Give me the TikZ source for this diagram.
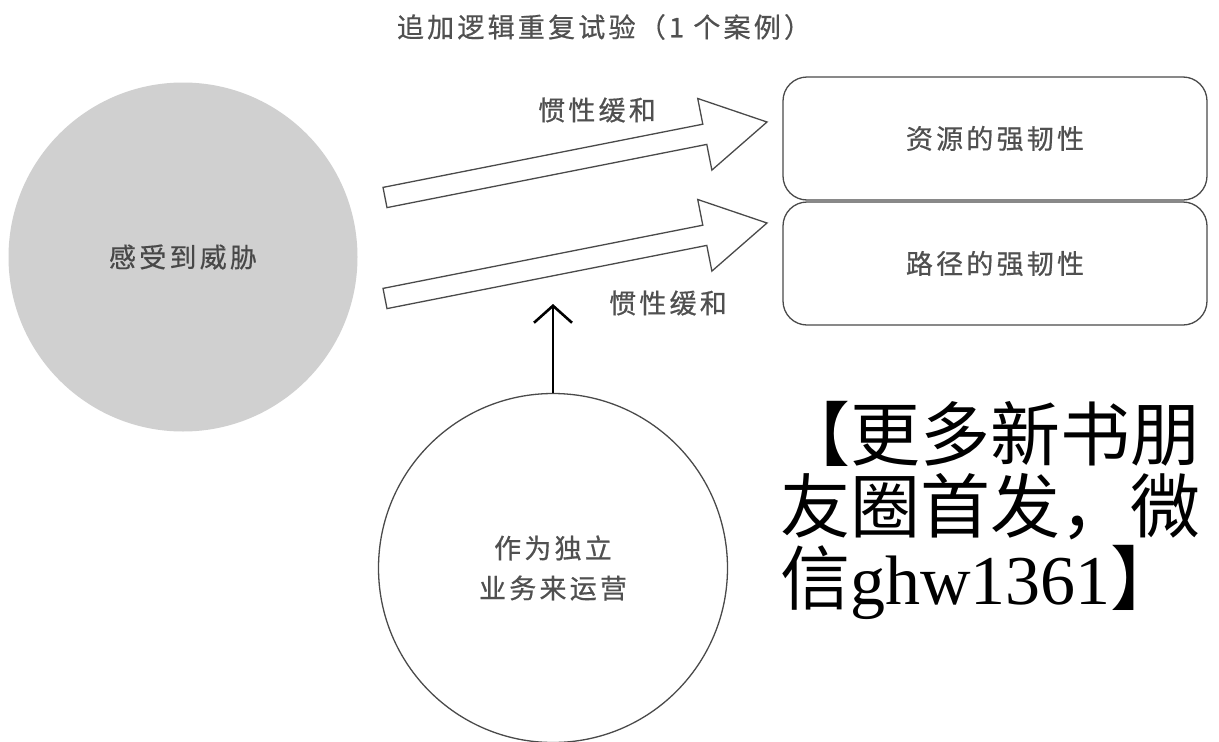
\documentclass[tikz,border=0pt]{standalone}
\usepackage{fontspec}
\newfontfamily\cjk{Noto Sans CJK SC}
\newfontfamily\cjkls{Noto Sans CJK SC}[LetterSpace=12, FakeBold=0.6]
\newfontfamily\libserif{Liberation Serif}
\usetikzlibrary{arrows.meta}
\definecolor{lbl}{HTML}{505050}
\definecolor{edgegray}{HTML}{4A4A4A}
\definecolor{threatfill}{HTML}{D0D0D0}
\begin{document}
\begin{tikzpicture}[x=1pt,y=-1pt,
  lbltext/.style={font={\cjkls\fontsize{27}{40}\selectfont}, text=lbl, inner sep=0pt},
  bigcircle/.style={circle, inner sep=0pt, minimum size=349pt, align=center},
  resbox/.style={draw=edgegray, line width=1.3pt, rounded corners=24pt, minimum width=424pt, minimum height=123pt, inner sep=0pt},
  blockarrow/.style={draw=edgegray, line width=1.3pt, fill=white, line join=miter},
  wmtext/.style={font={\cjk\fontsize{70}{72}\selectfont}, text=black, inner sep=0pt, anchor=base west}]
\fill[white] (0,0) rectangle (1219,742);
\useasboundingbox (0,0) rectangle (1219,742);

% title
\node[lbltext] (title) at (604,27) {追加逻辑重复试验（1 个案例）};

% circles
\node[bigcircle, fill=threatfill, lbltext, text=lbl!90!black] (threat) at (183,257) {感受到威胁};
\node[bigcircle, draw=edgegray, line width=1.3pt, lbltext] (indep) at (553,568) {作为独立\\业务来运营};

% boxes
\node[resbox, lbltext] (res) at (995,138.5) {资源的强韧性};
\node[resbox, lbltext] (path) at (995,263.5) {路径的强韧性};

% block arrows
\coordinate (t1) at (385,197.5);
\coordinate (t2) at (385,298.5);
\begin{scope}[shift={(t1)}, rotate=11.18]
\draw[blockarrow] (0,-10.3) -- (326,-10.3) -- (326,-36.5) -- (389.4,0) -- (326,36.5) -- (326,10.3) -- (0,10.3) -- cycle;
\end{scope}
\begin{scope}[shift={(t2)}, rotate=11.18]
\draw[blockarrow] (0,-10.3) -- (326,-10.3) -- (326,-36.5) -- (389.4,0) -- (326,36.5) -- (326,10.3) -- (0,10.3) -- cycle;
\end{scope}

\node[lbltext] (lab1) at (597,110) {惯性缓和};
\node[lbltext] (lab2) at (668,303) {惯性缓和};

% vertical arrow
\coordinate (vtip) at (553,304);
\draw[line width=2.6pt, -{Straight Barb[length=17pt,width=38pt]}] (indep.north) -- (vtip);

% watermark
\node[wmtext] (wm1) at (780,460) {【更多新书朋};
\node[wmtext] (wm2) at (780,532) {友圈首发，微};
\node[wmtext] (wm3) at (780,604) {信{\libserif ghw1361}】};
\end{tikzpicture}
\end{document}
